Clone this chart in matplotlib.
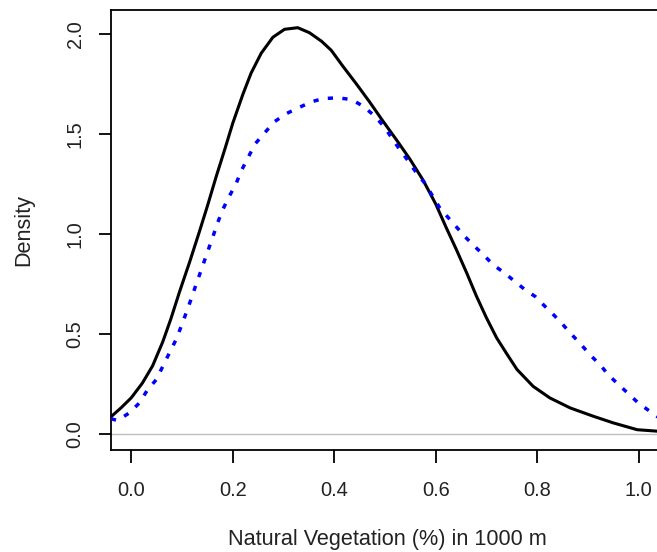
# Density of natural vegetation share within 1000 m, two groups (R-style plot)
import numpy as np
import matplotlib
matplotlib.use("Agg")
import matplotlib.pyplot as plt

# values
black_x = [-0.040, -0.020, 0.000, 0.022, 0.042, 0.062, 0.078, 0.095, 0.115, 0.134,
           0.150, 0.167, 0.185, 0.200, 0.220, 0.236, 0.256, 0.279, 0.302, 0.328,
           0.351, 0.375, 0.394, 0.417, 0.444, 0.470, 0.496, 0.523, 0.549, 0.575,
           0.600, 0.621, 0.641, 0.661, 0.680, 0.700, 0.720, 0.740, 0.760, 0.792,
           0.825, 0.865, 0.911, 0.950, 0.997, 1.040]
black_y = [0.085, 0.130, 0.180, 0.254, 0.340, 0.460, 0.575, 0.710, 0.860, 1.010,
           1.140, 1.285, 1.430, 1.555, 1.700, 1.805, 1.905, 1.985, 2.025, 2.033,
           2.008, 1.965, 1.920, 1.840, 1.750, 1.660, 1.565, 1.470, 1.375, 1.270,
           1.150, 1.030, 0.920, 0.805, 0.690, 0.580, 0.480, 0.400, 0.322, 0.237,
           0.179, 0.129, 0.087, 0.054, 0.020, 0.012]

blue_x = [-0.040, -0.027, -0.004, 0.016, 0.032, 0.049, 0.062, 0.075, 0.088, 0.098,
          0.108, 0.118, 0.128, 0.138, 0.147, 0.161, 0.170, 0.180, 0.193, 0.207,
          0.217, 0.230, 0.243, 0.263, 0.282, 0.305, 0.332, 0.355, 0.378, 0.407,
          0.434, 0.457, 0.480, 0.500, 0.513, 0.529, 0.546, 0.562, 0.578, 0.592,
          0.608, 0.634, 0.657, 0.677, 0.694, 0.713, 0.736, 0.756, 0.776, 0.796,
          0.812, 0.832, 0.848, 0.865, 0.884, 0.904, 0.924, 0.940, 0.957, 1.000,
          1.040]
blue_y = [0.075, 0.066, 0.104, 0.154, 0.220, 0.270, 0.337, 0.404, 0.470, 0.535,
          0.604, 0.675, 0.750, 0.821, 0.887, 0.988, 1.055, 1.121, 1.188, 1.255,
          1.318, 1.381, 1.448, 1.507, 1.562, 1.602, 1.635, 1.662, 1.678, 1.682,
          1.673, 1.640, 1.590, 1.532, 1.482, 1.423, 1.365, 1.306, 1.256, 1.198,
          1.130, 1.055, 0.988, 0.937, 0.896, 0.846, 0.804, 0.762, 0.721, 0.687,
          0.646, 0.596, 0.554, 0.504, 0.454, 0.395, 0.345, 0.295, 0.254, 0.152,
          0.080]

x_ticks = [0.0, 0.2, 0.4, 0.6, 0.8, 1.0]
y_ticks = [0.0, 0.5, 1.0, 1.5, 2.0]

plt.rcParams['font.family'] = ['Liberation Sans', 'DejaVu Sans']

fig = plt.figure(figsize=(6.57, 5.52), dpi=100)
ax = fig.add_axes([111 / 657, 102 / 552, (659 - 111) / 657, 440 / 552])

ax.axhline(0, color="#bebebe", lw=1.0, zorder=1)
ax.plot(black_x, black_y, color="black", lw=2.2, solid_capstyle="butt",
        solid_joinstyle="round", zorder=3)
ax.plot(blue_x, blue_y, color="#0000ff", lw=2.5, linestyle=(0, (1.5, 2.7)),
        dash_capstyle="butt", zorder=4)

ax.set_xlim(-0.04, 1.04)
ax.set_ylim(-0.0816, 2.1216)
ax.set_xticks(x_ticks)
ax.set_xticklabels([f"{v:.1f}" for v in x_ticks])
ax.set_yticks(y_ticks)
ax.set_yticklabels([f"{v:.1f}" for v in y_ticks], rotation=90, va="center")

for s in ax.spines.values():
    s.set_linewidth(1.3)
ax.spines["right"].set_visible(False)

ax.tick_params(axis="both", direction="out", length=9, width=1.3,
               labelsize=14.4, labelcolor="#222222")
ax.tick_params(axis="x", pad=13)
ax.tick_params(axis="y", pad=10)

fig.text(387 / 657, 1 - 539 / 552, "Natural Vegetation (%) in 1000 m",
         ha="center", va="center", fontsize=15.6, color="#222222")
fig.text(24 / 657, 1 - 230 / 552, "Density", rotation=90,
         ha="center", va="center", fontsize=15.6, color="#222222")

fig.savefig("out.png", dpi=100)
